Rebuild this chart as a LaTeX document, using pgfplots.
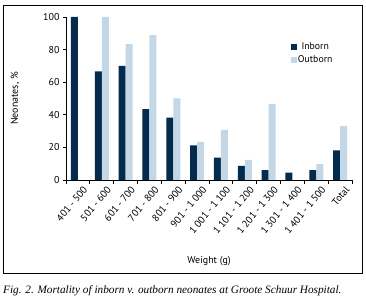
\documentclass[border=0pt]{standalone}
\usepackage{fontspec}
\setmainfont{PT Sans}
\newfontfamily\capfont{Liberation Serif}
\usepackage{pgfplots}
\pgfplotsset{compat=1.18}
\definecolor{inborn}{HTML}{022B4E}
\definecolor{outborn}{HTML}{C4D7E6}

\begin{document}
\begin{tikzpicture}[x=1bp,y=1bp]
\useasboundingbox (0,0) rectangle (366,300);
\draw[line width=0.9bp] (3,27) rectangle (362,295);
\node[anchor=west,inner sep=0pt,font=\capfont\itshape\fontsize{11.3}{13}\selectfont] at (3,9)
  {Fig. 2. Mortality of inborn v. outborn neonates at Groote Schuur Hospital.};
\begin{axis}[
    at={(66bp,120bp)}, anchor=south west,
    scale only axis,
    width=286bp, height=163bp,
    ybar=0pt,
    bar width=7bp,
    xmin=-0.5, xmax=11.5,
    ymin=0, ymax=100,
    axis x line*=bottom,
    axis y line*=left,
    axis line style={line width=0.8bp},
    tick style={line width=0.8bp,black},
    tick align=outside,
    major tick length=3bp,
    xtick={0,...,11},
    major x tick style={draw=none},
    minor xtick={-0.5,0.5,...,11.5},
    minor tick length=4bp,
    xticklabels={401 - 500,501 - 600,601 - 700,701 - 800,801 - 900,901 - 1 000,1 001 - 1 100,1 101 - 1 200,1 201 - 1 300,1 301 - 1 400,1 401 - 1 500,Total},
    x tick label style={rotate=50, anchor=north east, inner sep=0bp, yshift=-5bp, xshift=1bp,
      font=\fontsize{10}{10}\selectfont},
    ytick={0,20,...,100},
    y tick label style={font=\fontsize{10}{10}\selectfont},
    /pgf/number format/assume math mode=true,
    xlabel={Weight (g)},
    ylabel={Neonates, \%},
    label style={font=\fontsize{10}{10}\selectfont},
    xlabel style={at={(0.5,-0.497)}, anchor=center},
    ylabel style={at={(-0.178,0.5)}, anchor=center},
    legend style={at={(0.786,0.852)}, anchor=north west, draw=none, fill=none,
      inner sep=0pt, row sep=2.4bp,
      nodes={inner sep=1bp, text height=7bp, text depth=2bp},
      font=\fontsize{9.8}{10}\selectfont,
      /tikz/every even column/.append style={column sep=2bp}},
    legend image code/.code={\fill[#1] (0bp,-3bp) rectangle (6bp,3bp);},
]
\addplot[fill=inborn, draw=none] coordinates {
    (0,100) (1,66.7) (2,70) (3,43.5) (4,38.3) (5,21.2)
    (6,13.7) (7,8.6) (8,6) (9,4.5) (10,6) (11,18.2)
};
\addplot[fill=outborn, draw=none] coordinates {
    (0,0) (1,100) (2,83.3) (3,88.9) (4,50) (5,23.4)
    (6,30.8) (7,12.4) (8,46.7) (9,0) (10,9.7) (11,33.1)
};
\legend{Inborn,Outborn}
\end{axis}
\end{tikzpicture}
\end{document}
